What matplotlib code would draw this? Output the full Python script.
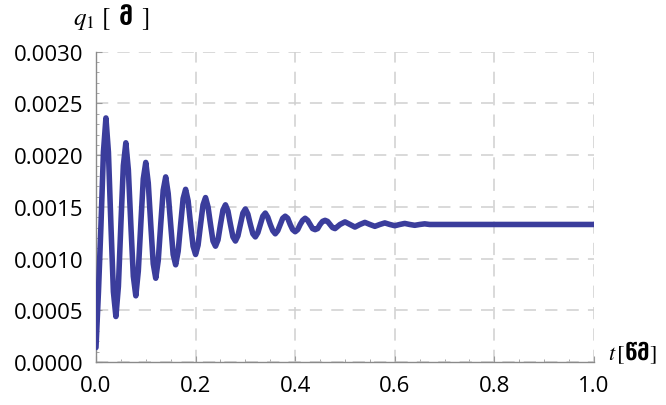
import matplotlib.pyplot as plt
from matplotlib.ticker import MultipleLocator

# time [s] and displacement q1
t_early = [0.000, 0.005, 0.010, 0.015, 0.020, 0.025, 0.030, 0.035, 0.040, 0.045,
           0.050, 0.055, 0.060, 0.065, 0.070, 0.075, 0.080, 0.085, 0.090, 0.095,
           0.100, 0.105, 0.110, 0.115, 0.120, 0.125, 0.130, 0.135, 0.140, 0.145,
           0.150, 0.155, 0.160, 0.165, 0.170, 0.175, 0.180, 0.185, 0.190, 0.195,
           0.200, 0.205, 0.210, 0.215, 0.220, 0.225, 0.230, 0.235, 0.240, 0.245,
           0.250, 0.255, 0.260, 0.265, 0.270, 0.275, 0.280, 0.285, 0.290, 0.295,
           0.300, 0.305, 0.310, 0.315, 0.320, 0.325, 0.330, 0.335, 0.340, 0.345,
           0.350, 0.355, 0.360, 0.365, 0.370, 0.375, 0.380, 0.385, 0.390, 0.395,
           0.400, 0.405, 0.410, 0.415, 0.420, 0.425, 0.430, 0.435, 0.440, 0.445,
           0.450, 0.455, 0.460, 0.465, 0.470, 0.475, 0.480]
q_early = [0.00014, 0.00068, 0.00132, 0.00203, 0.00236, 0.00203, 0.00133, 0.00068, 0.00044, 0.00073,
           0.00133, 0.00190, 0.00212, 0.00186, 0.00133, 0.00083, 0.00064, 0.00088, 0.00133, 0.00177,
           0.00193, 0.00173, 0.00133, 0.00095, 0.00081, 0.00098, 0.00133, 0.00166, 0.00179, 0.00163,
           0.00133, 0.00104, 0.00094, 0.00107, 0.00133, 0.00158, 0.00167, 0.00156, 0.00133, 0.00112,
           0.00104, 0.00113, 0.00133, 0.00152, 0.00159, 0.00150, 0.00133, 0.00117, 0.00112, 0.00118,
           0.00133, 0.00147, 0.00152, 0.00146, 0.00133, 0.00121, 0.00117, 0.00122, 0.00133, 0.00144,
           0.00148, 0.00143, 0.00133, 0.00124, 0.00121, 0.00125, 0.00133, 0.00141, 0.00144, 0.00140,
           0.00133, 0.00127, 0.00124, 0.00127, 0.00133, 0.00139, 0.00141, 0.00139, 0.00133, 0.00128,
           0.00126, 0.00128, 0.00133, 0.00137, 0.00139, 0.00137, 0.00133, 0.00129, 0.00128, 0.00129,
           0.00133, 0.00136, 0.00137, 0.00136, 0.00133, 0.00130, 0.00129]
t_late = [0.490, 0.500, 0.510, 0.520, 0.530, 0.540, 0.550, 0.560, 0.570, 0.580,
          0.590, 0.600, 0.610, 0.620, 0.630, 0.640, 0.650, 0.660, 0.670, 0.700,
          0.800, 0.900, 1.000]
q_late = [0.00133, 0.001355, 0.00133, 0.001305, 0.00133, 0.001350, 0.00133, 0.001312, 0.00133, 0.001345,
          0.00133, 0.001318, 0.00133, 0.001340, 0.00133, 0.001322, 0.00133, 0.001336, 0.00133, 0.00133,
          0.00133, 0.00133, 0.00133]

t = t_early + t_late
q = q_early + q_late

x_ticks = [0.0, 0.2, 0.4, 0.6, 0.8, 1.0]
y_ticks = [0.0, 0.0005, 0.0010, 0.0015, 0.0020, 0.0025, 0.0030]

plt.rcParams['mathtext.fontset'] = 'stix'

fig = plt.figure(figsize=(6.66, 4.06), dpi=100)
ax = fig.add_axes([0.1441, 0.1059, 0.7478, 0.7641])

ax.plot(t, q, color='#3b3d9c', lw=4, solid_capstyle='round', solid_joinstyle='round', zorder=3)

ax.set_xlim(0, 1.0)
ax.set_ylim(0, 0.003)
ax.set_xticks(x_ticks)
ax.set_yticks(y_ticks)
ax.set_xticklabels(['%.1f' % v for v in x_ticks])
ax.set_yticklabels(['%.4f' % v for v in y_ticks])
ax.xaxis.set_minor_locator(MultipleLocator(0.05))
ax.yaxis.set_minor_locator(MultipleLocator(0.0001))

ax.grid(True, which='major', color='#cfcfcf', ls=(0, (8, 6)), lw=1.1)
ax.tick_params(which='both', direction='in', colors='#9a9a9a', labelcolor='black',
               labelsize=16, pad=9)
ax.tick_params(which='major', length=4, width=0.8)
ax.tick_params(which='minor', length=2.5, width=0.6)
for lab in ax.get_xticklabels() + ax.get_yticklabels():
    lab.set_family(['Open Sans', 'DejaVu Sans'])

for s in ['top', 'right']:
    ax.spines[s].set_visible(False)
for s in ['left', 'bottom']:
    ax.spines[s].set_color('#8a8a8a')
    ax.spines[s].set_linewidth(1.0)

fig.text(0.110, 0.957, r'$q_1\ [$ მ $]$', fontsize=18, fontweight='bold',
         family=['DejaVu Sans'], va='center', ha='left')
fig.text(0.913, 0.130, r'$t\,[$წმ$]$', fontsize=16, fontweight='bold',
         family=['DejaVu Sans'], va='center', ha='left')

fig.savefig('out.png', dpi=100)
